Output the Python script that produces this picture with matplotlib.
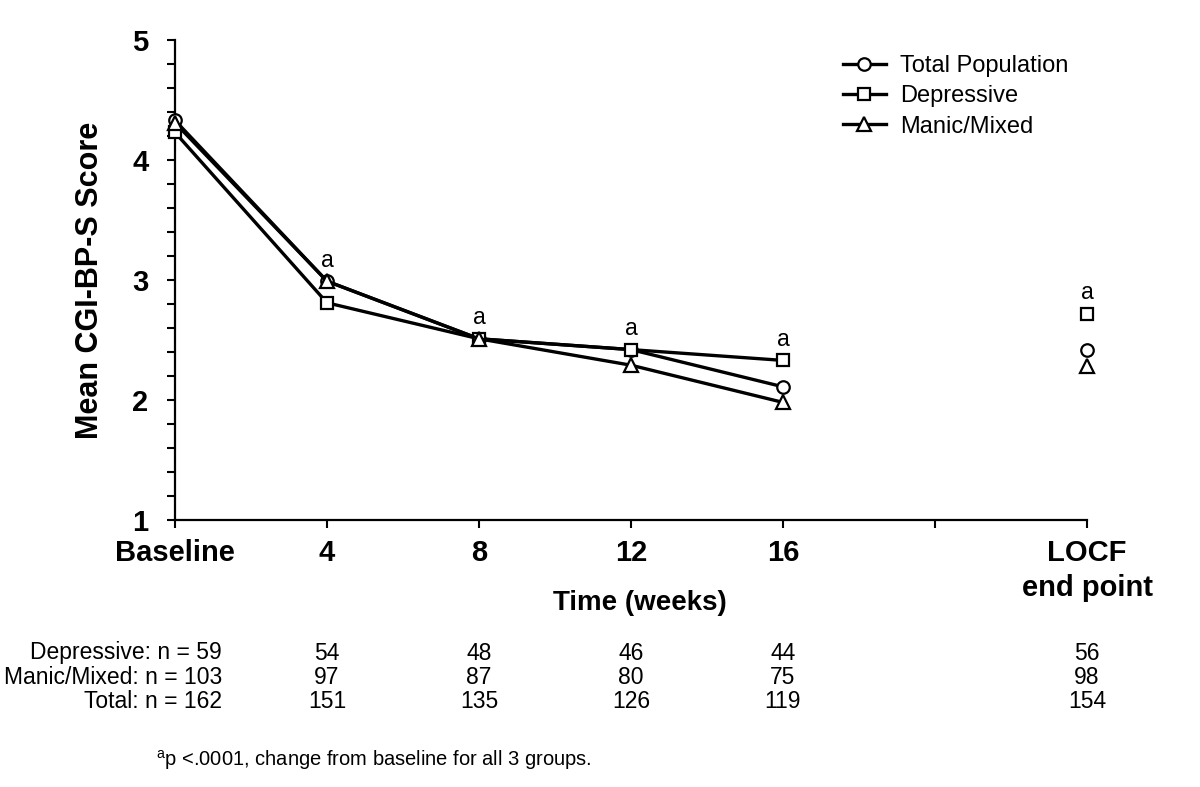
import matplotlib
matplotlib.use('Agg')
import matplotlib.pyplot as plt
from matplotlib.transforms import blended_transform_factory

plt.rcParams['font.family'] = ['Liberation Sans', 'DejaVu Sans']
plt.rcParams['mathtext.fontset'] = 'custom'
plt.rcParams['mathtext.rm'] = 'Liberation Sans'

# ---- data ----
weeks = [0, 4, 8, 12, 16]
locf_x = 24
tick_pos = [0, 4, 8, 12, 16, 20, 24]
tick_labels = ['Baseline', '4', '8', '12', '16', '', 'LOCF\nend point']

total = [4.33, 2.99, 2.51, 2.42, 2.11]
depressive = [4.23, 2.81, 2.51, 2.42, 2.33]
manic = [4.31, 2.99, 2.51, 2.29, 1.98]
total_locf = 2.42
depressive_locf = 2.72
manic_locf = 2.28

sig_x = [4, 8, 12, 16, 24]

n_rows = ['Depressive: n = 59', 'Manic/Mixed: n = 103', 'Total: n = 162']
n_x = [4, 8, 12, 16, 24]
n_depressive = [54, 48, 46, 44, 56]
n_manic = [97, 87, 80, 75, 98]
n_total = [151, 135, 126, 119, 154]

fig = plt.figure(figsize=(12, 7.87), dpi=100)
ax = fig.add_axes([175 / 1200, 1 - 520 / 787, 912 / 1200, 480 / 787])

style = dict(color='black', lw=2.4, mfc='white', mec='black', mew=1.6, clip_on=False)
ax.plot(weeks, total, marker='o', ms=9, label='Total Population', zorder=3, **style)
ax.plot(weeks, depressive, marker='s', ms=8.5, label='Depressive', zorder=4, **style)
ax.plot(weeks, manic, marker='^', ms=9.5, label='Manic/Mixed', zorder=5, **style)

# LOCF end point
ax.plot([locf_x], [total_locf], marker='o', ms=9, ls='none', **style)
ax.plot([locf_x], [depressive_locf], marker='s', ms=8.5, ls='none', **style)
ax.plot([locf_x], [manic_locf], marker='^', ms=9.5, ls='none', **style)

# significance markers
tops = [max(t, d, m) for t, d, m in zip(total, depressive, manic)][1:] + \
       [max(total_locf, depressive_locf, manic_locf)]
for x, y in zip(sig_x, tops):
    ax.annotate('a', (x, y), xytext=(0, 15), textcoords='offset points',
                ha='center', va='center', fontsize=16.5)

# axes
ax.set_xlim(0, 24)
ax.set_ylim(1, 5)
for s in ['top', 'right']:
    ax.spines[s].set_visible(False)
ax.spines['left'].set_linewidth(1.6)
ax.spines['bottom'].set_linewidth(1.6)
ax.set_xticks(tick_pos)
ax.set_xticklabels(tick_labels, fontsize=21, fontweight='bold', linespacing=1.3)
ax.set_yticks([1, 2, 3, 4, 5])
ax.set_yticklabels(['1', '2', '3', '4', '5'], fontsize=21, fontweight='bold')
ax.set_yticks([1 + 0.2 * i for i in range(21) if i % 5], minor=True)
ax.tick_params(axis='both', which='both', direction='out', width=1.5, length=6)
ax.tick_params(axis='x', pad=8)
ax.tick_params(axis='y', pad=13)
ax.set_ylabel('Mean CGI-BP-S Score', fontsize=22, fontweight='bold', labelpad=20)

fig.text(640 / 1200, 1 - 603 / 787, 'Time (weeks)', fontsize=20, fontweight='bold',
         ha='center', va='center')

leg = ax.legend(loc='upper left', bbox_to_anchor=(843 / 1200, 1 - 55 / 787),
                bbox_transform=fig.transFigure, frameon=False, fontsize=17,
                handlelength=1.8, handletextpad=0.6, labelspacing=0.35,
                borderaxespad=0, borderpad=0)

# n table
trans = blended_transform_factory(ax.transData, fig.transFigure)
row_y = [1 - 653 / 787, 1 - 677 / 787, 1 - 701 / 787]
for label, y in zip(n_rows, row_y):
    fig.text(222 / 1200, y, label, fontsize=16.5, ha='right', va='center')
for vals, y in zip([n_depressive, n_manic, n_total], row_y):
    for x, v in zip(n_x, vals):
        ax.text(x, y, str(v), transform=trans, fontsize=16.5, ha='center', va='center')

fig.text(156 / 1200, 1 - 760 / 787, r'$^{\mathrm{a}}$p <.0001, change from baseline for all 3 groups.',
         fontsize=14.5, ha='left', va='center')

fig.savefig('out.png', dpi=100)
